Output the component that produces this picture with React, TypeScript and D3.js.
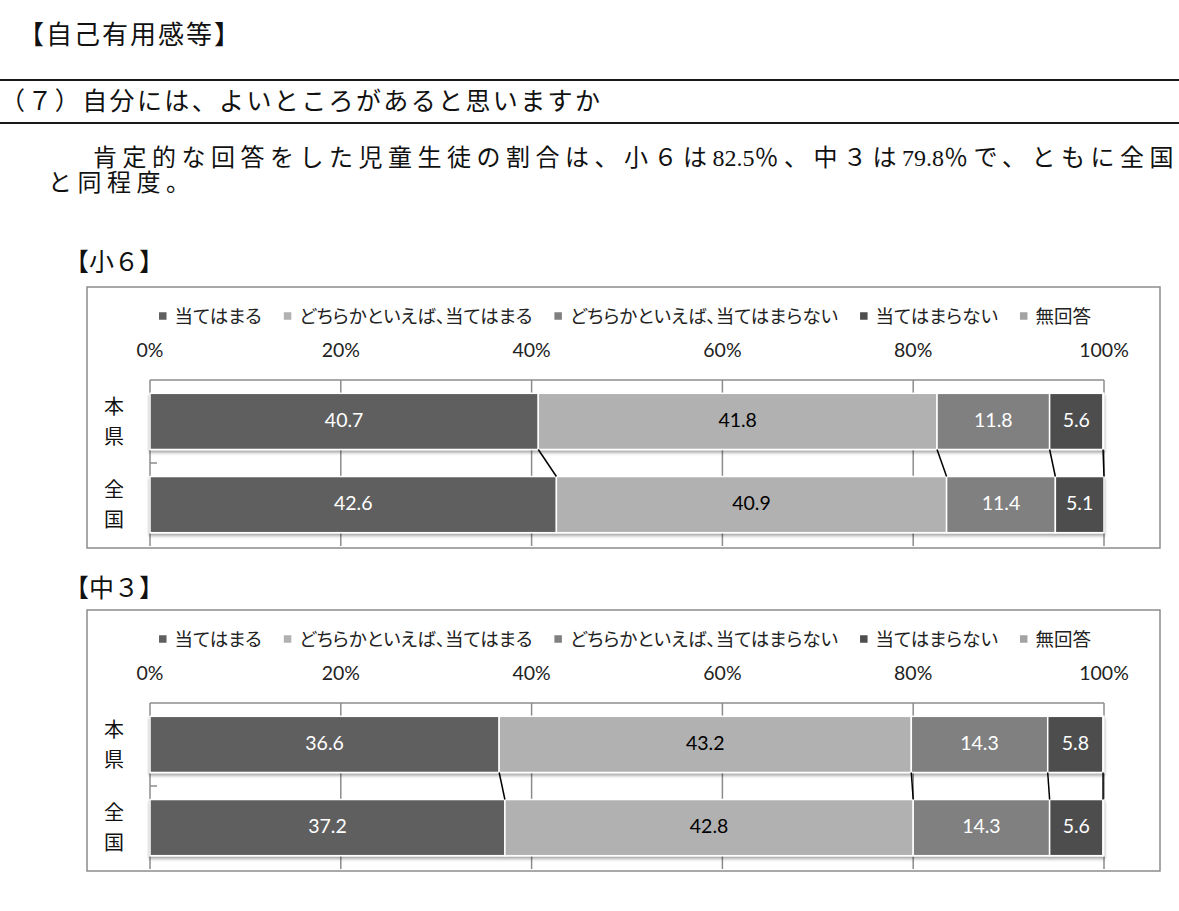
import React, { useEffect, useRef } from "react";
import * as d3 from "d3";

const seriesNames = [
  "当てはまる",
  "どちらかといえば、当てはまる",
  "どちらかといえば、当てはまらない",
  "当てはまらない",
  "無回答",
];
const seriesColors = ["#5f5f5f", "#b1b1b1", "#808080", "#4e4e4e", "#a3a3a3"];
const labelColors = ["#ffffff", "#000000", "#ffffff", "#ffffff", "#000000"];
const categories = ["本県", "全国"];
const elemValues = [
  [40.7, 41.8, 11.8, 5.6, 0.1],
  [42.6, 40.9, 11.4, 5.1, 0.0],
];
const juniorValues = [
  [36.6, 43.2, 14.3, 5.8, 0.1],
  [37.2, 42.8, 14.3, 5.6, 0.1],
];
const tickValues = [0, 20, 40, 60, 80, 100];

const JP = "'Noto Sans CJK JP', 'Noto Sans', sans-serif";
const NUM = "Lato, 'Open Sans', sans-serif";
const SERIF = `'Liberation Serif', ${JP}`;

function Legend() {
  const ref = useRef<SVGGElement>(null);
  useEffect(() => {
    const g = d3.select(ref.current);
    g.selectAll("*").remove();
    const fs = 18.5;
    const sq = 7.5;
    const pad = 8;
    const gap = 22;
    const items = g
      .selectAll("g.item")
      .data(seriesNames)
      .join("g")
      .attr("class", "item");
    items
      .append("rect")
      .attr("width", sq)
      .attr("height", sq)
      .attr("y", -sq / 2)
      .attr("fill", (_d, i) => seriesColors[i]);
    items
      .append("text")
      .attr("x", sq + pad)
      .attr("dy", "0.36em")
      .attr("font-size", fs)
      .attr("font-family", JP)
      .style("font-feature-settings", "'palt'")
      .attr("fill", "#222")
      .text((d) => d);
    const widths: number[] = [];
    items.each(function () {
      const t = d3.select(this).select("text").node() as SVGTextElement;
      widths.push(sq + pad + t.getComputedTextLength());
    });
    const total = d3.sum(widths) + gap * (widths.length - 1);
    let x = 625 - total / 2;
    items.attr("transform", (_d, i) => {
      const tx = x;
      x += widths[i] + gap;
      return `translate(${tx},0)`;
    });
  }, []);
  return <g ref={ref} transform="translate(0,29)" />;
}

function Chart({ top, values }: { top: number; values: number[][] }) {
  const x = d3.scaleLinear().domain([0, 100]).range([150, 1104]);
  const y = d3
    .scaleBand()
    .domain(categories)
    .range([93, 259])
    .paddingInner(0.325)
    .paddingOuter(0.16);
  const bw = y.bandwidth();
  const rows = categories.map((c, i) => {
    const o: any = { cat: c };
    seriesNames.forEach((s, j) => (o[s] = values[i][j]));
    return o;
  });
  const stacked = d3.stack<any>().keys(seriesNames)(rows);
  const plotTop = 93;
  const plotBottom = 259;
  const midY = (plotTop + plotBottom) / 2;
  const gridColor = "#8c8c8c";

  return (
    <g transform={`translate(0,${top})`}>
      <rect x={87} y={0} width={1073} height={261} fill="#fff" stroke="#8c8c8c" strokeWidth={1.5} />
      <Legend />
      {tickValues.map((t) => (
        <text
          key={"tl" + t}
          x={x(t)}
          y={63}
          textAnchor="middle"
          dy="0.35em"
          fontSize={19.5}
          fontFamily={NUM}
          fill="#222"
        >
          {t}%
        </text>
      ))}
      <line x1={x(0)} x2={x(100)} y1={plotTop} y2={plotTop} stroke={gridColor} strokeWidth={1.5} />
      <line x1={x(0)} x2={x(0)} y1={plotTop} y2={plotBottom} stroke={gridColor} strokeWidth={1.5} />
      <line x1={x(0)} x2={x(0) + 7} y1={midY} y2={midY} stroke={gridColor} strokeWidth={1.5} />
      {tickValues.slice(1).map((t) => (
        <line
          key={"g" + t}
          x1={x(t)}
          x2={x(t)}
          y1={plotTop}
          y2={plotBottom}
          stroke={gridColor}
          strokeWidth={1.5}
        />
      ))}
      {categories.map((c) => (
        <g key={"cl" + c}>
          {c.split("").map((ch, k) => (
            <text
              key={k}
              x={114}
              y={(y(c) as number) + bw / 2 + (k === 0 ? -15 : 15)}
              textAnchor="middle"
              dy="0.36em"
              fontSize={20}
              fontFamily={JP}
              fill="#111"
            >
              {ch}
            </text>
          ))}
        </g>
      ))}
      {categories.map((c, ci) => (
        <g key={"bar" + c} filter="url(#shadow)">
          {stacked.map((s, si) => {
            const d = s[ci];
            const w = x(d[1]) - x(d[0]);
            if (w <= 0) return null;
            return (
              <rect
                key={si}
                x={x(d[0])}
                y={y(c)}
                width={w}
                height={bw}
                fill={seriesColors[si]}
                stroke="#ffffff"
                strokeWidth={1.5}
              />
            );
          })}
        </g>
      ))}
      {stacked.slice(0, 4).map((s, si) => (
        <line
          key={"sl" + si}
          x1={x(s[0][1])}
          y1={(y(categories[0]) as number) + bw}
          x2={x(s[1][1])}
          y2={y(categories[1]) as number}
          stroke="#000"
          strokeWidth={1.5}
        />
      ))}
      {categories.map((c, ci) =>
        stacked.map((s, si) => {
          const d = s[ci];
          const v = values[ci][si];
          if (v < 1) return null;
          return (
            <text
              key={"lb" + c + si}
              x={(x(d[0]) + x(d[1])) / 2}
              y={(y(c) as number) + bw / 2}
              dy="0.3em"
              textAnchor="middle"
              fontSize={19.5}
              fontFamily={NUM}
              fill={labelColors[si]}
            >
              {v.toFixed(1)}
            </text>
          );
        })
      )}
    </g>
  );
}

export default function App() {
  const ls = 5.5;
  return (
    <svg
      width={1179}
      height={911}
      style={{ position: "absolute", left: 0, top: 0, background: "#fff" }}
    >
      <defs>
        <filter id="shadow" x="-5%" y="-20%" width="110%" height="160%">
          <feDropShadow dx={0} dy={2.5} stdDeviation={1.6} floodColor="#000" floodOpacity={0.35} />
        </filter>
      </defs>
      <rect x={0} y={0} width={1179} height={911} fill="#fff" />
      <text x={18} y={35} dy="0.36em" fontSize={26} fontFamily={JP} fill="#111" letterSpacing={2}>
        【自己有用感等】
      </text>
      <line x1={0} x2={1179} y1={80} y2={80} stroke="#1a1a1a" strokeWidth={2} />
      <text
        x={0}
        y={101}
        dy="0.36em"
        fontSize={25}
        fontFamily={JP}
        fill="#111"
        textLength={600}
        lengthAdjust="spacing"
      >
        （７）自分には、よいところがあると思いますか
      </text>
      <line x1={0} x2={1179} y1={123} y2={123} stroke="#1a1a1a" strokeWidth={2} />
      <text x={93} y={157} dy="0.36em" fontSize={24} fontFamily={SERIF} fill="#111">
        <tspan letterSpacing={ls}>肯定的な回答をした児童生徒の割合は、小６は</tspan>
        <tspan>82.5</tspan>
        <tspan letterSpacing={ls}>％、中３は</tspan>
        <tspan>79.8</tspan>
        <tspan letterSpacing={ls}>％で、ともに全国</tspan>
      </text>
      <text x={48} y={182} dy="0.36em" fontSize={24} fontFamily={SERIF} fill="#111" letterSpacing={ls}>
        と同程度。
      </text>
      <text x={64} y={262} dy="0.36em" fontSize={25} fontFamily={JP} fill="#111">
        【小６】
      </text>
      <Chart top={287} values={elemValues} />
      <text x={64} y={588} dy="0.36em" fontSize={25} fontFamily={JP} fill="#111">
        【中３】
      </text>
      <Chart top={610} values={juniorValues} />
    </svg>
  );
}
